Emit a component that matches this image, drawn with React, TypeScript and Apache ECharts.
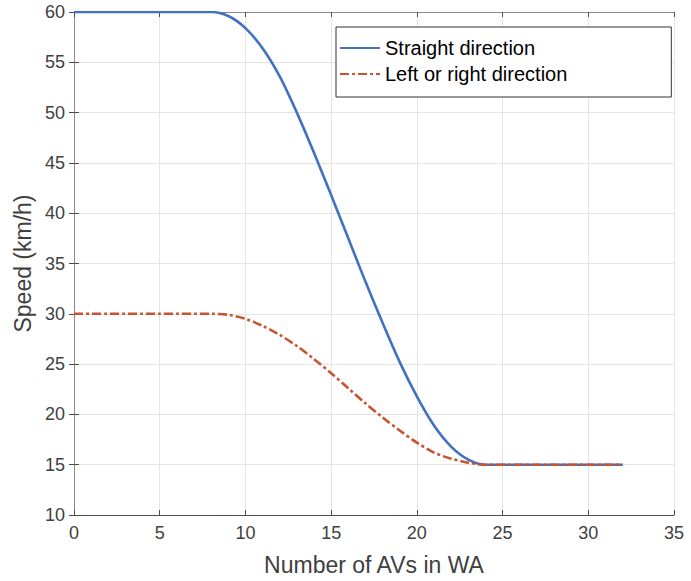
import React, { useEffect, useRef } from "react";
import * as echarts from "echarts";

const xValues = [0, 1, 2, 3, 4, 5, 6, 7, 8, 9, 10, 11, 12, 13, 14, 15, 16, 17, 18, 19, 20, 21, 22, 23, 24, 25, 26, 27, 28, 29, 30, 31, 32];
const straightSpeed = [60, 60, 60, 60, 60, 60, 60, 60, 60, 59.6, 58.4, 56.4, 53.6, 50.0, 46.0, 41.8, 37.5, 33.2, 29.1, 25.2, 21.8, 18.9, 16.8, 15.5, 15, 15, 15, 15, 15, 15, 15, 15, 15];
const turnSpeed = [30, 30, 30, 30, 30, 30, 30, 30, 30, 29.9, 29.5, 28.8, 27.9, 26.8, 25.5, 24.1, 22.6, 21.1, 19.7, 18.4, 17.2, 16.2, 15.6, 15.2, 15, 15, 15, 15, 15, 15, 15, 15, 15];
const seriesNames = ["Straight direction", "Left or right direction"];
const xTickRange = { min: 0, max: 35, interval: 5 };
const yTickRange = { min: 10, max: 60, interval: 5 };

const FONT = "'Liberation Sans', Arial, Helvetica, sans-serif";
const AXIS_TEXT = "#404040";

export default function App() {
  const ref = useRef<HTMLDivElement>(null);
  useEffect(() => {
    if (!ref.current) return;
    const chart = echarts.init(ref.current, undefined, { renderer: "svg" });
    const pairs = (ys: number[]) => xValues.map((x, i) => [x, ys[i]]);
    const mainAxisLine = { show: true, lineStyle: { color: "#4d4d4d", width: 1 } };
    const sideAxisLine = { show: true, lineStyle: { color: "#8a8a8a", width: 1 } };
    const tick = { show: true, inside: true, length: 5, lineStyle: { color: "#4d4d4d" } };
    chart.setOption({
      animation: false,
      backgroundColor: "#ffffff",
      grid: { left: 74, right: 17, top: 12, bottom: 64, containLabel: false },
      legend: {
        data: seriesNames,
        orient: "vertical",
        left: 336,
        top: 27,
        padding: [11, 104, 13, 3],
        itemWidth: 40,
        itemHeight: 20,
        itemGap: 6,
        backgroundColor: "#ffffff",
        borderColor: "#333333",
        borderWidth: 1,
        borderRadius: 0,
        itemStyle: { opacity: 0 },
        textStyle: { fontFamily: FONT, fontSize: 20, color: "#000000", lineHeight: 20 },
        z: 10,
      },
      xAxis: [
        {
          type: "value",
          ...xTickRange,
          position: "bottom",
          axisLine: mainAxisLine,
          axisTick: tick,
          axisLabel: { color: AXIS_TEXT, fontFamily: FONT, fontSize: 18, margin: 9 },
          splitLine: { show: true, lineStyle: { color: "#e4e4e4", width: 1 } },
          name: "Number of AVs in WA",
          nameLocation: "middle",
          nameGap: 38,
          nameTextStyle: { color: AXIS_TEXT, fontFamily: FONT, fontSize: 23 },
        },
        {
          type: "value",
          ...xTickRange,
          position: "top",
          axisLine: sideAxisLine,
          axisTick: tick,
          axisLabel: { show: false },
          splitLine: { show: false },
        },
      ],
      yAxis: [
        {
          type: "value",
          ...yTickRange,
          position: "left",
          axisLine: mainAxisLine,
          axisTick: tick,
          axisLabel: { color: AXIS_TEXT, fontFamily: FONT, fontSize: 18, margin: 9 },
          splitLine: { show: true, lineStyle: { color: "#e4e4e4", width: 1 } },
          name: "Speed (km/h)",
          nameLocation: "middle",
          nameGap: 36,
          nameTextStyle: { color: AXIS_TEXT, fontFamily: FONT, fontSize: 23 },
        },
        {
          type: "value",
          ...yTickRange,
          position: "right",
          axisLine: sideAxisLine,
          axisTick: tick,
          axisLabel: { show: false },
          splitLine: { show: false },
        },
      ],
      series: [
        {
          name: seriesNames[0],
          type: "line",
          data: pairs(straightSpeed),
          showSymbol: false,
          symbol: "none",
          smooth: 0.3,
          lineStyle: { color: "#4171c0", width: 2.6, type: "solid" },
          itemStyle: { color: "#4171c0" },
          z: 3,
        },
        {
          name: seriesNames[1],
          type: "line",
          data: pairs(turnSpeed),
          showSymbol: false,
          symbol: "none",
          smooth: 0.3,
          lineStyle: { color: "#c9532e", width: 2.6, type: [9, 3, 3, 3] },
          itemStyle: { color: "#c9532e" },
          z: 4,
        },
      ],
    });
    return () => chart.dispose();
  }, []);
  return (
    <div
      ref={ref}
      style={{ position: "fixed", left: 0, top: 0, width: 691, height: 581, background: "#fff" }}
    />
  );
}
